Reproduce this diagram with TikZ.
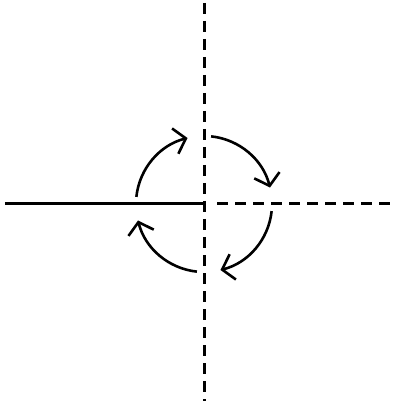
\documentclass[tikz,border=0pt]{standalone}
\usetikzlibrary{arrows.meta}
\begin{document}
\begin{tikzpicture}[x=1pt,y=1pt]
\tikzset{>={Straight Barb[length=11pt,width=26pt]},
  axis/.style={line width=3pt},
  dashaxis/.style={axis, dash pattern=on 11pt off 7pt},
  turn/.style={line width=2.6pt, ->}}
\useasboundingbox (-204,-197) rectangle (196,204);
\coordinate (o) at (0,0);
\coordinate (w) at (-199,0);
\coordinate (e) at (192,0);
\coordinate (n) at (0,201);
\coordinate (s) at (0,-200);
% axes
\draw[axis] (w) -- (o);
\draw[dashaxis] ([xshift=13pt]o) -- (e);
\draw[dashaxis] (n) -- (s);
% rotation arrows
\foreach \a in {174,84,-6,-96}
  \draw[turn] (o) ++(\a:68) arc[start angle=\a, end angle=\a-70, radius=68];
\end{tikzpicture}
\end{document}
